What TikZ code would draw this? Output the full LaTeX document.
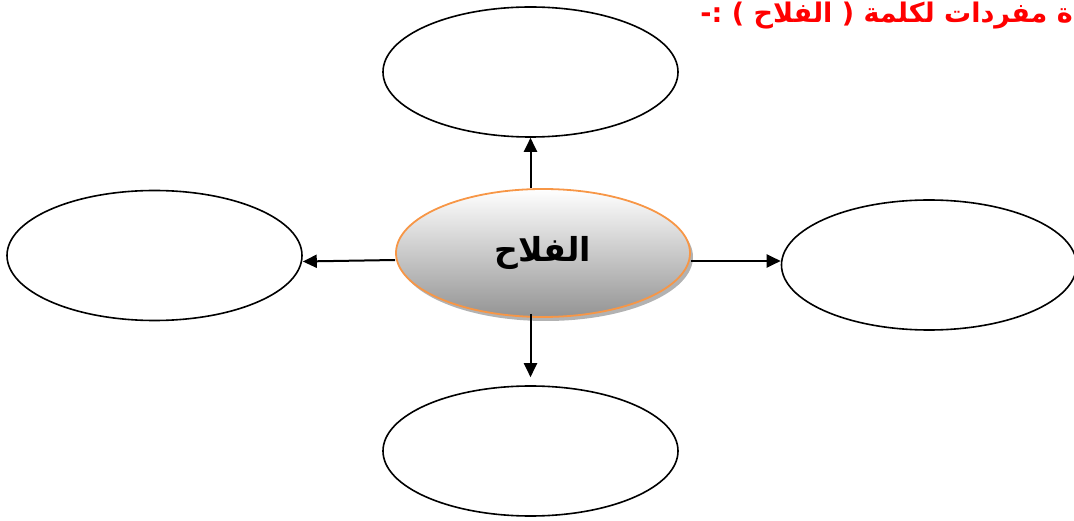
\documentclass[tikz,border=0pt]{standalone}
\usepackage{fontspec}
\newfontfamily\arabicfont[Script=Arabic]{DejaVu Sans}
\TeXXeTstate=1
\usepackage{tikz}
\usepackage{xcolor}
\definecolor{ovalEdge}{HTML}{F79646}
\definecolor{titleRed}{HTML}{FF0000}
\usetikzlibrary{shapes.geometric,arrows.meta,shadows}

\tikzset{
  emptyOval/.style={ellipse, draw, line width=1.6pt, minimum width=295pt, minimum height=130pt, inner sep=0pt},
  mainOval/.style={ellipse, draw=ovalEdge, line width=1.8pt, minimum width=294pt, minimum height=128pt, inner sep=0pt,
    top color=white, bottom color=black!42,
    drop shadow={shadow xshift=3pt, shadow yshift=-4pt, fill=black!30, opacity=1}},
  link/.style={line width=2pt, -{Triangle[length=14pt,width=13pt]}}
}

\begin{document}
\begin{tikzpicture}[x=1pt, y=-1pt]
  \useasboundingbox (0,0) rectangle (1074,521);
  \node[anchor=north east, text=titleRed, inner sep=0pt, font=\arabicfont\bfseries\fontsize{27}{32}\selectfont] (title) at (1073,2) {\beginR ة مفردات لكلمة ( الفلاح ) :-\endR};
  \node[emptyOval] (top) at (530.5,72) {};
  \node[emptyOval] (left) at (154.5,255.5) {};
  \node[emptyOval] (right) at (929,265) {};
  \node[emptyOval] (bottom) at (530.5,451) {};
  \node[mainOval, font=\arabicfont\bfseries\fontsize{33}{38}\selectfont] (main) at (543,253) {\beginR الفلاح\endR};
  \draw[link] (main.north -| top.south) -- (top.south);
  \draw[link] ([yshift=-7pt]main.west) -- ([yshift=-6pt]left.east);
  \draw[link] ([yshift=-8pt]main.east) -- ([yshift=4pt]right.west);
  \draw[link, shorten >=8pt] ([yshift=4pt]main.south -| bottom.north) -- (bottom.north);
\end{tikzpicture}
\end{document}
